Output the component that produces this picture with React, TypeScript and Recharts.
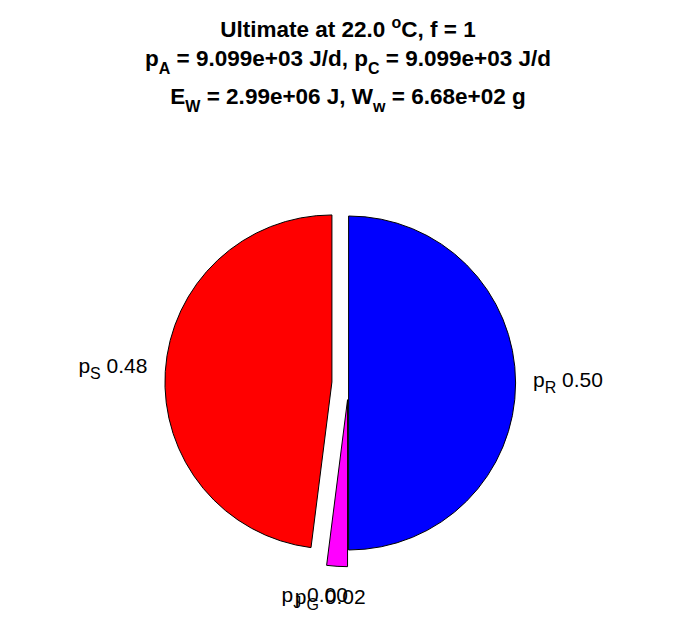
import React from 'react';
import { Cell, Pie, PieChart } from 'recharts';

// slice values
const sliceNames = ['R', 'G', 'J', 'S'];
const sliceValues = [0.5, 0.02, 0.0, 0.48];
const sliceLabels = ['0.50', '0.02', '0.00', '0.48'];
const sliceColors = ['#0000ff', '#ff00ff', '#00ffff', '#ff0000'];
const sliceExploded = [false, true, true, true];

type Seg = { t: string; sub?: boolean; sup?: boolean };

const titleLines: Seg[][] = [
  [{ t: 'Ultimate at 22.0 ' }, { t: 'o', sup: true }, { t: 'C, f = 1' }],
  [
    { t: 'p' },
    { t: 'A', sub: true },
    { t: ' = 9.099e+03 J/d, p' },
    { t: 'C', sub: true },
    { t: ' = 9.099e+03 J/d' },
  ],
  [
    { t: 'E' },
    { t: 'W', sub: true },
    { t: ' = 2.99e+06 J, W' },
    { t: 'w', sub: true },
    { t: ' = 6.68e+02 g' },
  ],
];

const W = 696;
const H = 618;
const CX = 348.6;
const CY = 383;
const R = 167;
const FONT = '"Liberation Sans", Arial, Helvetica, sans-serif';
const RAD = Math.PI / 180;

const pieData = sliceNames.map((name, i) => ({ name, value: sliceValues[i] }));
const total = sliceValues.reduce((a, b) => a + b, 0);

// mid angle of each slice (recharts convention: 90 = top, going clockwise)
const midAngles = sliceValues.map((v, i) => {
  const before = sliceValues.slice(0, i).reduce((a, b) => a + b, 0);
  return 90 - (360 * (before + v / 2)) / total;
});

function TitleLine({ segs, y }: { segs: Seg[]; y: number }) {
  let shift = 0;
  return (
    <text x={W / 2} y={y} textAnchor="middle" fontFamily={FONT} fontWeight="bold" fontSize={22.5} fill="#000">
      {segs.map((s, i) => {
        const target = s.sub ? 8 : s.sup ? -9 : 0;
        const dy = target - shift;
        shift = target;
        return (
          <tspan key={i} dy={dy} fontSize={s.sub || s.sup ? 16 : 22.5}>
            {s.t}
          </tspan>
        );
      })}
    </text>
  );
}

function renderLabel(p: any, k: number) {
  const a = p.midAngle * RAD;
  const dx = Math.cos(a);
  const dy = -Math.sin(a);
  const x = p.cx + 1.2 * R * dx + 19 * Math.sign(dx) * Math.sqrt(Math.abs(dx));
  const y = p.cy + 1.2 * R * dy + 4;
  return (
    <text x={x} y={y} textAnchor="middle" fontFamily={FONT} fontSize={21} fill="#000">
      p
      <tspan dy={6} fontSize={16}>
        {sliceNames[k]}
      </tspan>
      <tspan dy={-6}>{' ' + sliceLabels[k]}</tspan>
    </text>
  );
}

export default function App() {
  return (
    <div style={{ position: 'fixed', left: 0, top: 0, width: W, height: H, background: '#fff' }}>
      <PieChart width={W} height={H} margin={{ top: 0, right: 0, bottom: 0, left: 0 }}>
        {sliceNames.map((_, k) => {
          const off = sliceExploded[k] ? 0.1 * R : 0;
          const a = midAngles[k] * RAD;
          return (
            <Pie
              key={k}
              data={pieData}
              dataKey="value"
              nameKey="name"
              cx={CX + off * Math.cos(a)}
              cy={CY - off * Math.sin(a)}
              outerRadius={R}
              innerRadius={0}
              startAngle={90}
              endAngle={-270}
              isAnimationActive={false}
              labelLine={false}
              label={(p: any) => (p.index === k ? renderLabel(p, k) : <g />)}
            >
              {pieData.map((d, i) => (
                <Cell
                  key={d.name}
                  fill={i === k ? sliceColors[i] : 'none'}
                  stroke={i === k ? '#000' : 'none'}
                  strokeWidth={1}
                />
              ))}
            </Pie>
          );
        })}
      </PieChart>
      <svg width={W} height={130} style={{ position: 'absolute', left: 0, top: 0, pointerEvents: 'none' }}>
        <TitleLine segs={titleLines[0]} y={37} />
        <TitleLine segs={titleLines[1]} y={66} />
        <TitleLine segs={titleLines[2]} y={104} />
      </svg>
    </div>
  );
}
